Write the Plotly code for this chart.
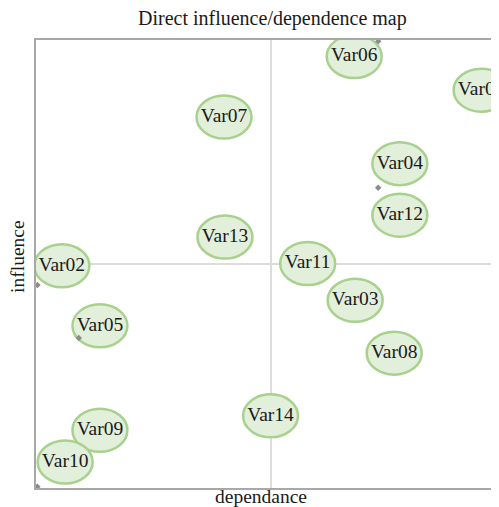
import plotly.graph_objects as go

# ---- data ----
variables = ["Var01", "Var02", "Var03", "Var04", "Var05", "Var06", "Var07",
             "Var08", "Var09", "Var10", "Var11", "Var12", "Var13", "Var14"]
dependence = [94.7, 5.5, 67.9, 77.4, 13.6, 67.7, 40.0,
              76.2, 13.6, 6.2, 57.8, 77.4, 40.2, 49.9]
influence = [88.8, 49.6, 41.9, 72.4, 36.2, 96.3, 82.8,
             30.1, 12.9, 5.8, 50.1, 60.9, 56.0, 16.1]

# small leader-arrow tips
tip_x = [72.8, 72.8, 0.3, 9.1, 0.3]
tip_y = [99.7, 67.0, 45.3, 33.5, 0.3]

x_range = [0, 98.5]
y_range = [0, 100]
x_mid = 50
y_mid = 50

title_text = "Direct influence/dependence map"
x_label = "dependance"
y_label = "influence"

FONT = "Liberation Serif, Times New Roman, serif"
FILL = "#e2efda"
EDGE = "#a9d18e"

fig = go.Figure()

shapes = [
    dict(type="line", xref="x", yref="y", x0=x_mid, x1=x_mid, y0=y_range[0], y1=y_range[1],
         line=dict(color="#dcdcdc", width=2), layer="below"),
    dict(type="line", xref="x", yref="y", x0=x_range[0], x1=x_range[1], y0=y_mid, y1=y_mid,
         line=dict(color="#dcdcdc", width=2), layer="below"),
]
for xv, yv in zip(dependence, influence):
    shapes.append(dict(
        type="circle", xref="x", yref="y",
        xsizemode="pixel", ysizemode="pixel", xanchor=xv, yanchor=yv,
        x0=-27.5, x1=27.5, y0=-21.5, y1=21.5,
        fillcolor=FILL, line=dict(color=EDGE, width=2.5), layer="below",
    ))

fig.add_trace(go.Scatter(
    x=tip_x, y=tip_y, mode="markers",
    marker=dict(size=5, color="#8c8c8c", symbol="diamond"),
    hoverinfo="skip", showlegend=False,
))

fig.add_trace(go.Scatter(
    x=dependence, y=influence, mode="text", text=variables,
    textposition="middle center",
    textfont=dict(family=FONT, size=19.5, color="#1a1a1a"),
    showlegend=False,
))

fig.update_layout(
    width=491, height=499,
    margin=dict(l=28, r=0, t=32, b=19),
    paper_bgcolor="white", plot_bgcolor="white",
    shapes=shapes,
    showlegend=False,
    xaxis=dict(range=x_range, showgrid=False, zeroline=False, showticklabels=False,
               ticks="", showline=True, linecolor="#a8a8a8", linewidth=2, mirror=True,
               fixedrange=True),
    yaxis=dict(range=y_range, showgrid=False, zeroline=False, showticklabels=False,
               ticks="", showline=True, linecolor="#a8a8a8", linewidth=2, mirror=False,
               fixedrange=True),
    annotations=[
        dict(text=title_text, xref="paper", yref="paper", x=0.51, y=1.049,
             xanchor="center", yanchor="middle", showarrow=False,
             font=dict(family=FONT, size=20, color="#1a1a1a")),
        dict(text=x_label, xref="paper", yref="paper", x=0.486, y=-0.020,
             xanchor="center", yanchor="middle", showarrow=False,
             font=dict(family=FONT, size=19.5, color="#1a1a1a")),
        dict(text=y_label, xref="paper", yref="paper", x=-0.039, y=0.518,
             xanchor="center", yanchor="middle", showarrow=False, textangle=-90,
             font=dict(family=FONT, size=19.5, color="#1a1a1a")),
    ],
)

fig.write_html("out.html")
